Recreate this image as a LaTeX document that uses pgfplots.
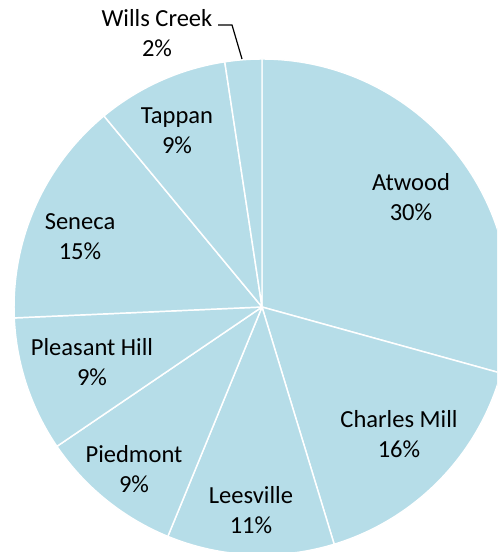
\documentclass[border=0pt]{standalone}
\usepackage{pgfplots}
\pgfplotsset{compat=1.18}
\usepackage{pgfplotstable}
\usepackage{fontspec}
\setmainfont{Carlito}
\definecolor{slice}{HTML}{B6DDE8}
\pgfdeclareplotmark{nothing}{}
\tikzset{lbl/.style={align=center, inner sep=0pt, anchor=center,
        font=\fontsize{18.4}{22.5}\selectfont}}

% slices clockwise from twelve o'clock: where each starts and ends (cumulative %),
% cx/cy is the pie's centre
\pgfplotstableread[col sep=comma]{
name,pct,from,to,cx,cy
Atwood,30,0,29.3,262,245
Charles Mill,16,29.3,45.3,262,245
Leesville,11,45.3,56.2,262,245
Piedmont,9,56.2,65.5,262,245
Pleasant Hill,9,65.5,74.3,262,245
Seneca,15,74.3,89.0,262,245
Tappan,9,89.0,97.6,262,245
Wills Creek,2,97.6,100,262,245
}\slices

\begin{document}
\begin{tikzpicture}
\useasboundingbox (0pt,0pt) rectangle (372.75pt,414pt);
\clip (0pt,0pt) rectangle (372.75pt,414pt);
\begin{axis}[
    at={(0pt,0pt)}, anchor=south west,
    x=0.75pt, y=0.75pt,
    xmin=0, xmax=497, ymin=0, ymax=552,
    enlargelimits=false,
    hide axis,
    clip=false,
]
% every row draws its wedge around the pie's centre
\addplot[only marks, mark=nothing, scatter, point meta=explicit,
    visualization depends on={\thisrow{from} \as \pfrom},
    visualization depends on={\thisrow{to} \as \pto},
    scatter/@pre marker code/.code={%
        \pgfscope
        \pgfmathsetmacro\aa{90-3.6*\pfrom}%
        \pgfmathsetmacro\ab{90-3.6*\pto}%
        \fill[slice, draw=white, line width=1.1pt, line join=round]
            (0pt,0pt) -- (\aa:186pt)
            arc[start angle=\aa, end angle=\ab, radius=186pt] -- cycle;
    },
    scatter/@post marker code/.code={\endpgfscope},
] table[x=cx, y=cy, meta=pct] \slices;

\coordinate (l1) at (axis cs:411,355);
\coordinate (l2) at (axis cs:399,118);
\coordinate (l3) at (axis cs:251,42);
\coordinate (l4) at (axis cs:134,83);
\coordinate (l5) at (axis cs:92,190);
\coordinate (l6) at (axis cs:80,315);
\coordinate (l7) at (axis cs:177,421);
\coordinate (l8) at (axis cs:157,519);
\coordinate (w1) at (axis cs:218,527);
\coordinate (w2) at (axis cs:232,527);
\coordinate (w3) at (axis cs:242,493);
\end{axis}
% labels go on top of the wedges
\node[lbl] at (l1) {Atwood\\30\%};
\node[lbl] at (l2) {Charles Mill\\16\%};
\node[lbl] at (l3) {Leesville\\11\%};
\node[lbl] at (l4) {Piedmont\\9\%};
\node[lbl] at (l5) {Pleasant Hill\\9\%};
\node[lbl] at (l6) {Seneca\\15\%};
\node[lbl] at (l7) {Tappan\\9\%};
\node[lbl] at (l8) {Wills Creek\\2\%};
\draw[black, line width=0.9pt] (w1) -- (w2) -- (w3);
\end{tikzpicture}
\end{document}
